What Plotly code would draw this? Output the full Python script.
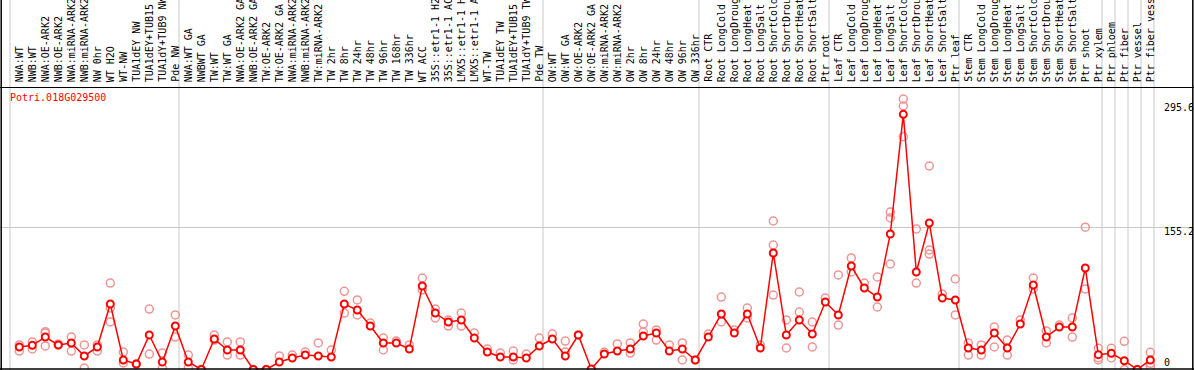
import plotly.graph_objects as go

gene = "Potri.018G029500"

labels = [
    "NWA:WT", "NWB:WT", "NWA:OE-ARK2", "NWB:OE-ARK2", "NWA:miRNA-ARK2", "NWB:miRNA-ARK2",
    "NW 0hr", "WT H2O", "WT-NW", "TUA1dEY NW", "TUA1dEY+TUB15", "TUA1dY+TUB9 NW", "Pde NW",
    "NWA:WT GA", "NWBWT GA", "TW:WT", "TW:WT GA", "NWA:OE-ARK2 GA", "NWB:OE-ARK2 GA",
    "TW:OE-ARK2", "TW:OE-ARK2 GA", "NWA:miRNA-ARK2", "NWB:miRNA-ARK2", "TW:miRNA-ARK2",
    "TW 2hr", "TW 8hr", "TW 24hr", "TW 48hr", "TW 96hr", "TW 168hr", "TW 336hr", "WT ACC",
    "35S::etr1-1 H2", "35S::etr1-1 AC", "LMX5::etr1-1 H", "LMX5::etr1-1 A", "WT-TW",
    "TUA1dEY TW", "TUA1dEY+TUB15", "TUA1dY+TUB9 TW", "Pde TW",
    "OW:WT", "OW:WT GA", "OW:OE-ARK2", "OW:OE-ARK2 GA", "OW:miRNA-ARK2", "OW:miRNA-ARK2",
    "OW 2hr", "OW 8hr", "OW 24hr", "OW 48hr", "OW 96hr", "OW 336hr",
    "Root CTR", "Root LongCold", "Root LongDroug", "Root LongHeat", "Root LongSalt",
    "Root ShortCold", "Root ShortDrou", "Root ShortHeat", "Root ShortSalt", "Ptr root",
    "Leaf CTR", "Leaf LongCold", "Leaf LongDroug", "Leaf LongHeat", "Leaf LongSalt",
    "Leaf ShortCold", "Leaf ShortDrou", "Leaf ShortHeat", "Leaf ShortSalt", "Ptr leaf",
    "Stem CTR", "Stem LongCold", "Stem LongDroug", "Stem LongHeat", "Stem LongSalt",
    "Stem ShortCold", "Stem ShortDrou", "Stem ShortHeat", "Stem ShortSalt", "Ptr shoot",
    "Ptr xylem", "Ptr phloem", "Ptr fiber", "Ptr vessel", "Ptr fiber vess",
]

means = [
    24.6, 26.4, 35.5, 26.8, 29.0, 14.8, 24.6, 71.6, 10.4, 6.0, 37.7, 8.2, 47.5,
    8.2, 0, 33.3, 21.3, 21.3, 0, 0, 8.2, 12.6, 15.8, 14.8, 13.7, 71.6, 65.0, 47.5,
    29.0, 29.0, 22.4, 91.3, 61.7, 51.9, 54.1, 34.4, 19.1, 13.7, 13.7, 12.6, 25.7,
    33.3, 14.8, 37.7, 0.5, 16.9, 20.2, 22.4, 36.6, 39.9, 20.2, 22.4, 10.4,
    35.5, 60.7, 39.9, 60.7, 23.5, 127.3, 37.7, 54.1, 38.8, 73.8,
    59.6, 113.1, 89.1, 79.2, 148.1, 278.9, 106.6, 160.1, 78.1, 76.0,
    23.5, 21.3, 39.9, 23.5, 49.7, 92.3, 35.5, 46.4, 46.4, 110.9,
    16.2, 17.7, 9.6, 0, 10.4,
]

replicates = [
    [20.2, 26.8], [30.1, 22.4], [41.3, 39.9, 25.7], [26.8, 27.9], [35.5, 20.2],
    [26.8, 1.6], [26.8, 20.2], [94.5, 67.2, 51.9], [19.1, 7.1], [6.0],
    [66.1, 16.9], [18.0, 1.6], [59.6, 35.5],
    [15.8, 1.6], [0], [37.7, 32.2], [30.1, 15.8], [30.1, 15.8], [0], [0],
    [14.8], [15.8], [19.1], [29.0], [21.3], [85.5, 61.7], [76.0, 59.6], [50.8],
    [34.4, 21.3], [31.1], [26.8], [100.0, 86.9], [66.1, 56.3], [54.1, 47.5],
    [61.7, 47.5], [39.9], [22.4], [18.0], [20.2, 10.4], [16.9], [34.4],
    [38.8], [31.1, 19.1], [37.7], [0], [19.1], [27.9], [29.0, 18.0],
    [49.7, 41.0], [43.2, 32.2], [26.8], [29.0, 10.4], [10.4],
    [38.8], [79.2, 51.9], [43.2], [67.2, 56.3], [26.8], [162.3, 136.0, 81.4],
    [54.1, 23.5], [84.7, 62.8], [51.9, 24.6], [78.1],
    [103.3, 48.6], [121.9, 106.6], [94.5], [101.1, 68.3], [172.1, 165.6, 115.3],
    [295.6, 288.0, 254.4], [153.6, 94.5], [222.4, 130.6, 126.2], [82.5], [98.9, 59.6],
    [29.0, 15.8], [26.8, 15.8], [46.4, 24.6], [32.2, 15.8], [54.1], [100.0, 88.0],
    [42.1, 29.0], [48.6], [56.3, 35.5], [155.6, 88.0],
    [23.2, 12.9, 10.4], [23.2, 12.6], [30.8, 0], [0], [18.8, 6.8, 3.1],
]

group_breaks = [0, 13, 41, 53, 63, 73, 84, 85, 86, 87, 88]
scale_labels = ["295.6", "155.2", "0"]
scale_values = [295.6, 155.2, 0]

W, H = 1194, 370
step = 13.0
x0px = 19.3
r0 = -x0px / step
r1 = r0 + W / step
y0px, ppu = 369.5, 0.915

def py(p):
    return (H - p) / H

fig = go.Figure()

rx, ry = [], []
for i, reps in enumerate(replicates):
    for v in reps:
        rx.append(i)
        ry.append(v)
fig.add_trace(go.Scatter(
    x=rx, y=ry, mode="markers", hoverinfo="skip",
    marker=dict(symbol="circle-open", size=8, color="#f09494", line=dict(width=1.5, color="#f09494")),
))
fig.add_trace(go.Scatter(
    x=list(range(len(labels))), y=means, mode="lines+markers",
    line=dict(color="#ff0000", width=1.5),
    marker=dict(symbol="circle", size=7, color="white", line=dict(width=2, color="#ff0000")),
))

shapes = []
for k in group_breaks:
    shapes.append(dict(type="line", xref="x", yref="paper", x0=k - 0.715, x1=k - 0.715,
                       y0=0, y1=1, line=dict(color="#c8c8c8", width=1), layer="below"))
shapes.append(dict(type="line", xref="paper", yref="y", x0=0, x1=1, y0=scale_values[1], y1=scale_values[1],
                   line=dict(color="#c8c8c8", width=1), layer="below"))
# frame
shapes.append(dict(type="line", xref="paper", yref="paper", x0=0, x1=1, y0=py(87.5), y1=py(87.5),
                   line=dict(color="black", width=1)))
shapes.append(dict(type="line", xref="paper", yref="paper", x0=0, x1=1, y0=py(369), y1=py(369),
                   line=dict(color="black", width=1.5)))
shapes.append(dict(type="line", xref="paper", yref="paper", x0=1.2 / W, x1=1.2 / W, y0=0, y1=1,
                   line=dict(color="black", width=1.5)))
shapes.append(dict(type="line", xref="paper", yref="paper", x0=(W - 1.2) / W, x1=(W - 1.2) / W, y0=0, y1=1,
                   line=dict(color="black", width=1.5)))

font = "DejaVu Sans Mono"
ann = []
for i, lab in enumerate(labels):
    ann.append(dict(x=i, xref="x", y=py(84), yref="paper", text=lab, textangle=-90,
                    showarrow=False, xanchor="center", yanchor="bottom",
                    font=dict(family=font, size=10, color="black")))
ann.append(dict(x=8 / W, xref="paper", y=py(97), yref="paper", text=gene, showarrow=False,
                xanchor="left", yanchor="middle", font=dict(family=font, size=10, color="#ff0000")))
label_shift = [-8, -4, 7]
for t, v, s in zip(scale_labels, scale_values, label_shift):
    ann.append(dict(x=1162 / W, xref="paper", y=v, yref="y", yshift=s, text=t, showarrow=False,
                    xanchor="left", yanchor="middle", font=dict(family=font, size=10, color="black")))

fig.update_layout(
    width=W, height=H, margin=dict(l=0, r=0, t=0, b=0),
    paper_bgcolor="white", plot_bgcolor="white", showlegend=False,
    xaxis=dict(range=[r0, r1], visible=False, fixedrange=True),
    yaxis=dict(range=[0, (y0px - 88) / ppu], domain=[py(y0px), py(88)], visible=False, fixedrange=True),
    shapes=shapes, annotations=ann,
)
fig.write_html("out.html", config={"displayModeBar": False},
               post_script="document.body.style.margin='0';document.body.style.overflow='hidden';")
